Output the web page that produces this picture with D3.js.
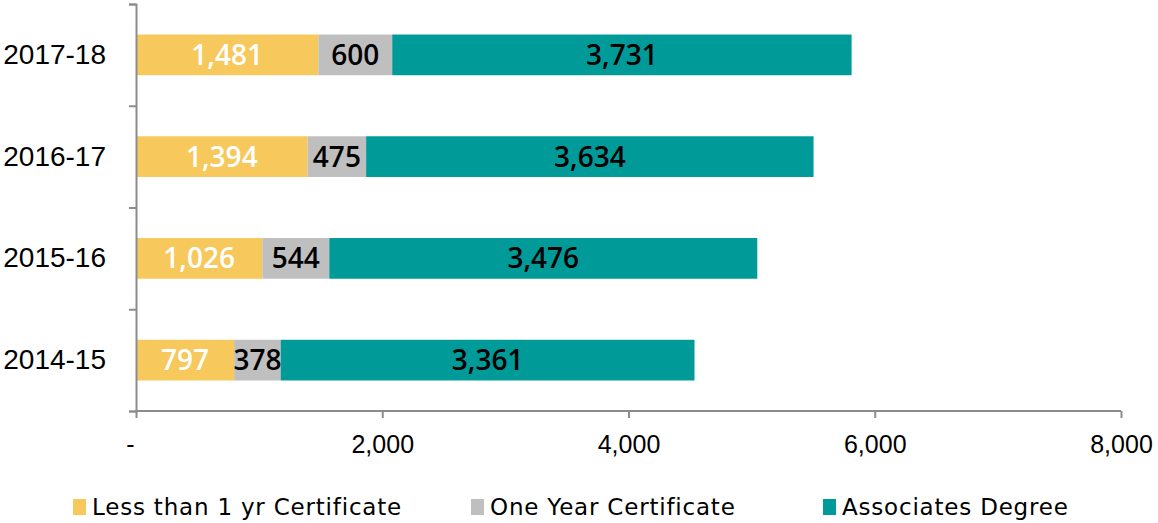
<!DOCTYPE html>
<html>
<head>
<meta charset="utf-8">
<script src="https://cdn.jsdelivr.net/npm/d3@7"></script>
<style>
  body { margin: 0; background: #fff; }
  svg { display: block; }
</style>
</head>
<body>
<div id="chart"></div>
<script>
// data
const years = ["2017-18", "2016-17", "2015-16", "2014-15"];
const seriesNames = ["Less than 1 yr Certificate", "One Year Certificate", "Associates Degree"];
const lessThan1yr = [1481, 1394, 1026, 797];
const oneYear = [600, 475, 544, 378];
const associates = [3731, 3634, 3476, 3361];
const xTicks = [0, 2000, 4000, 6000, 8000];

const colors = ["#F7C85C", "#BFBFBF", "#009B98"];
const labelColors = ["#ffffff", "#000000", "#000000"];
const axisColor = "#8c8c8c";

const width = 1158, height = 523;
const x0 = 136, x1 = 1121, yTop = 4, yBot = 411;

const svg = d3.select("#chart")
    .append("svg")
    .attr("width", width)
    .attr("height", height);

// table for the stack
const rows = years.map((y, i) => ({
    year: y,
    [seriesNames[0]]: lessThan1yr[i],
    [seriesNames[1]]: oneYear[i],
    [seriesNames[2]]: associates[i]
}));
const stacked = d3.stack().keys(seriesNames)(rows);

// scales
const x = d3.scaleLinear().domain([0, 8000]).range([x0, x1]);
const y = d3.scaleBand().domain(years).range([yTop, yBot]).paddingInner(0.6).paddingOuter(0.3);
const yEdge = d3.scaleLinear().domain([0, years.length]).range([yTop, yBot]);

// bars
stacked.forEach((s, si) => {
    svg.append("g")
        .selectAll("rect")
        .data(s)
        .join("rect")
        .attr("x", d => x(d[0]))
        .attr("y", d => y(d.data.year))
        .attr("width", d => x(d[1]) - x(d[0]))
        .attr("height", y.bandwidth())
        .attr("fill", colors[si]);
});

// value labels
stacked.forEach((s, si) => {
    svg.append("g")
        .selectAll("text")
        .data(s)
        .join("text")
        .attr("x", d => (x(d[0]) + x(d[1])) / 2)
        .attr("y", d => y(d.data.year) + y.bandwidth() / 2)
        .attr("dy", "0.36em")
        .attr("text-anchor", "middle")
        .attr("font-family", "Open Sans")
        .attr("font-weight", 600)
        .attr("font-size", 28)
        .attr("fill", labelColors[si])
        .text(d => d3.format(",")(d[1] - d[0]));
});

// y axis: boundary ticks
const yAxis = svg.append("g")
    .attr("transform", `translate(${x0},0)`)
    .call(d3.axisLeft(yEdge).tickValues(d3.range(years.length + 1)).tickSize(7).tickFormat(""));
yAxis.select(".domain").attr("stroke", axisColor).attr("stroke-width", 2);
yAxis.selectAll(".tick line").attr("stroke", axisColor).attr("stroke-width", 2);

// y category labels
svg.append("g")
    .attr("transform", `translate(${x0 - 27},0)`)
    .call(d3.axisLeft(y).tickSize(0))
    .call(g => g.select(".domain").remove())
    .selectAll("text")
    .attr("font-family", "Liberation Sans")
    .attr("font-size", 28)
    .attr("fill", "#000");

// x axis
const xAxis = svg.append("g")
    .attr("transform", `translate(0,${yBot})`)
    .call(d3.axisBottom(x).tickValues(xTicks).tickSize(7).tickPadding(17)
        .tickFormat(d => d === 0 ? "-" : d3.format(",")(d)));
xAxis.select(".domain").attr("stroke", axisColor).attr("stroke-width", 2)
    .attr("d", `M${x0},0H${x1}`);
xAxis.selectAll(".tick line").attr("stroke", axisColor).attr("stroke-width", 2);
xAxis.selectAll("text")
    .attr("font-family", "Liberation Sans")
    .attr("font-size", 25)
    .attr("fill", "#000");
xAxis.selectAll(".tick").filter(d => d === 0).select("text").attr("dx", -6);

// legend
const legendX = [73, 471, 823];
const legend = svg.append("g");
seriesNames.forEach((name, i) => {
    legend.append("rect")
        .attr("x", legendX[i])
        .attr("y", 499)
        .attr("width", 13)
        .attr("height", 16)
        .attr("fill", colors[i]);
    legend.append("text")
        .attr("x", legendX[i] + 19)
        .attr("y", 507)
        .attr("dy", "0.36em")
        .attr("font-family", "DejaVu Sans")
        .attr("font-size", 23)
        .attr("letter-spacing", 0.8)
        .attr("fill", "#000")
        .text(name);
});
</script>
</body>
</html>
